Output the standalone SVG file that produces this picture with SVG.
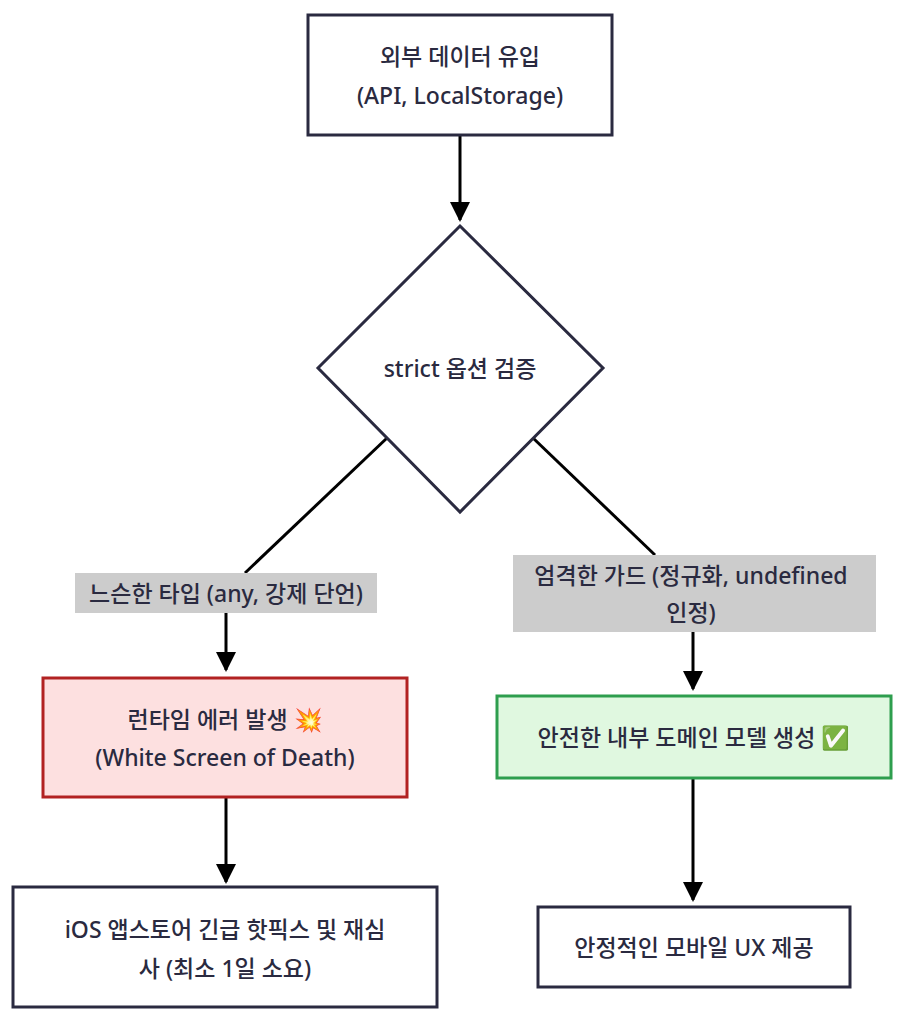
<svg xmlns="http://www.w3.org/2000/svg" width="906" height="1024" viewBox="0 0 906 1024">
<defs>
<marker id="ah" markerWidth="20" markerHeight="20" refX="18" refY="10" orient="auto" markerUnits="userSpaceOnUse" viewBox="0 0 20 20"><path d="M0,0 L20,10 L0,20 z" fill="#000"/></marker>
<style>
text{font-family:"Noto Sans","Noto Sans CJK KR",sans-serif;font-size:23px;font-weight:500;fill:#2a2a40;text-anchor:middle}
.n{fill:#fff;stroke:#2a2a40;stroke-width:3}
.c{stroke:#000;stroke-width:3;fill:none}
.lb{fill:#cccccc}
</style>
</defs>
<rect width="906" height="1024" fill="#fff"/>
<g id="connectors">
<line class="c" x1="460" y1="136" x2="460" y2="220" marker-end="url(#ah)"/>
<polyline class="c" points="387,438 245,573"/>
<polyline class="c" points="533,438 655,555"/>
<line class="c" x1="226" y1="612" x2="226" y2="670" marker-end="url(#ah)"/>
<line class="c" x1="693" y1="632" x2="693" y2="689" marker-end="url(#ah)"/>
<line class="c" x1="226" y1="798" x2="226" y2="882" marker-end="url(#ah)"/>
<line class="c" x1="693" y1="779" x2="693" y2="900" marker-end="url(#ah)"/>
<g id="label-left"><rect class="lb" x="75" y="573" width="302" height="40"/><text x="226" y="602">느슨한 타입 (any, 강제 단언)</text></g>
<g id="label-right"><rect class="lb" x="513" y="555" width="363" height="77"/><text x="691" y="584">엄격한 가드 (정규화, undefined</text><text x="691" y="621">인정)</text></g>
</g>
<g id="source"><rect class="n" x="308" y="15" width="304" height="120"/><text x="460" y="65">외부 데이터 유입</text><text x="460" y="104">(API, LocalStorage)</text></g>
<g id="check"><polygon class="n" points="460,226 603,368 460,512 318,368"/><text x="460" y="377">strict 옵션 검증</text></g>
<g id="error"><rect x="43" y="678" width="364" height="119" fill="#fde0e0" stroke="#b22222" stroke-width="3"/><text x="225" y="728">런타임 에러 발생 💥</text><text x="225" y="766">(White Screen of Death)</text></g>
<g id="hotfix"><rect class="n" x="13" y="887" width="424" height="120"/><text x="225" y="938">iOS 앱스토어 긴급 핫픽스 및 재심</text><text x="225" y="977">사 (최소 1일 소요)</text></g>
<g id="domain"><rect x="497" y="696" width="394" height="82" fill="#e0f8e0" stroke="#2e9e4e" stroke-width="3"/><text x="694" y="746">안전한 내부 도메인 모델 생성 ✅</text></g>
<g id="ux"><rect class="n" x="538" y="907" width="312" height="80"/><text x="694" y="956">안정적인 모바일 UX 제공</text></g>
</svg>
